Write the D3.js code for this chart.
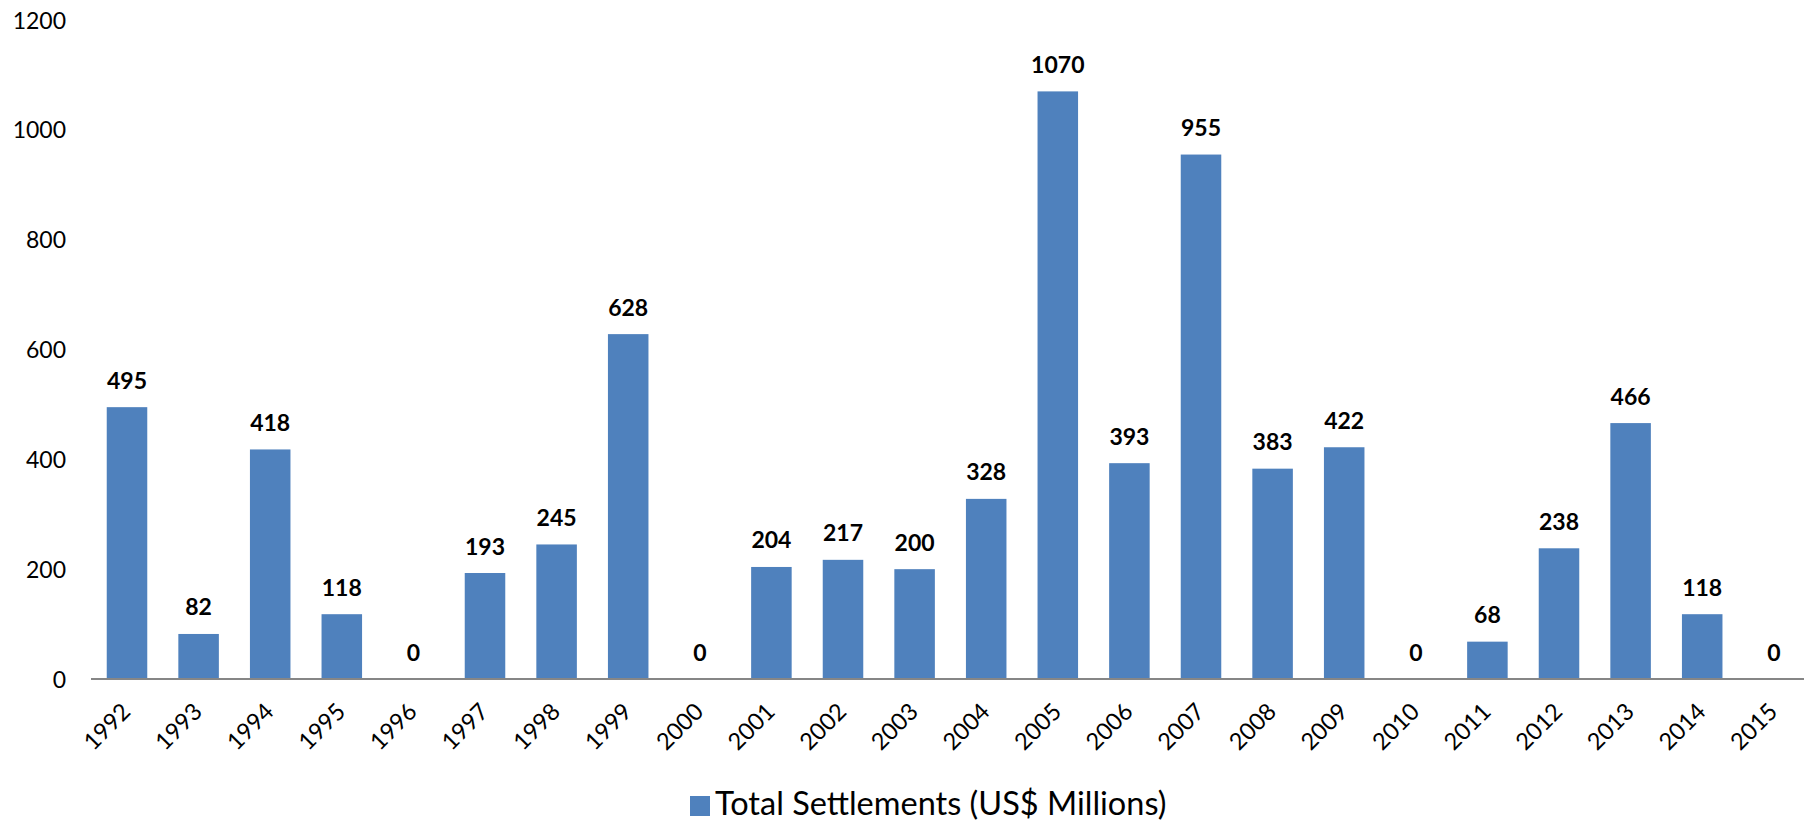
<!DOCTYPE html>
<html>
<head>
<meta charset="utf-8">
<script src="https://cdn.jsdelivr.net/npm/d3@7"></script>
<style>
  html, body { margin: 0; padding: 0; background: #fff; }
  svg { display: block; }
  text { font-family: Lato, "Open Sans", sans-serif; }
</style>
</head>
<body>
<svg id="chart" width="1804" height="822"></svg>
<script>
// Total settlements per year (US$ millions)
const years = ["1992","1993","1994","1995","1996","1997","1998","1999","2000","2001","2002","2003",
               "2004","2005","2006","2007","2008","2009","2010","2011","2012","2013","2014","2015"];
const settlements = [495, 82, 418, 118, 0, 193, 245, 628, 0, 204, 217, 200,
                     328, 1070, 393, 955, 383, 422, 0, 68, 238, 466, 118, 0];
const yTicks = [0, 200, 400, 600, 800, 1000, 1200];
const seriesName = "Total Settlements (US$ Millions)";

const barColor = "#4F81BD";
const svg = d3.select("#chart");

const x = d3.scaleBand()
  .domain(years)
  .range([91.2, 91.2 + 71.6 * years.length])
  .paddingInner(0.434)
  .paddingOuter(0.217);

const y = d3.scaleLinear().domain([0, 1200]).range([679, 20]);

// value axis: labels only, no line or ticks
const yAxis = svg.append("g")
  .attr("transform", "translate(66,0)")
  .call(d3.axisLeft(y).tickValues(yTicks).tickSize(0).tickPadding(0).tickFormat(d3.format("d")));
yAxis.select(".domain").remove();
yAxis.selectAll("text")
  .attr("font-size", 23)
  .attr("font-family", "Lato, sans-serif")
  .attr("fill", "#000")
  .attr("dy", "0.35em");

// bars
svg.append("g").selectAll("rect")
  .data(years)
  .join("rect")
  .attr("x", d => x(d))
  .attr("width", x.bandwidth())
  .attr("y", (d, i) => y(settlements[i]))
  .attr("height", (d, i) => y(0) - y(settlements[i]))
  .attr("fill", barColor);

// category axis
const xAxis = svg.append("g")
  .attr("transform", `translate(0,${y(0)})`)
  .call(d3.axisBottom(x).tickSize(0).tickPadding(0));
xAxis.select(".domain").remove();
svg.append("line")
  .attr("x1", 91).attr("x2", 1804)
  .attr("y1", y(0)).attr("y2", y(0))
  .attr("stroke", "#868686").attr("stroke-width", 2);
xAxis.selectAll("text")
  .attr("font-size", 23.5)
  .attr("font-family", "Lato, sans-serif")
  .attr("fill", "#000")
  .attr("text-anchor", "end")
  .attr("dy", 0)
  .attr("transform", "translate(5,34) rotate(-45)");

// value labels
svg.append("g").selectAll("text")
  .data(years)
  .join("text")
  .attr("x", d => x(d) + x.bandwidth() / 2)
  .attr("y", (d, i) => y(settlements[i]) - 18.5)
  .attr("text-anchor", "middle")
  .attr("font-size", 23)
  .attr("font-weight", "bold")
  .attr("fill", "#000")
  .text((d, i) => settlements[i]);

// legend
const legend = svg.append("g");
legend.append("rect")
  .attr("x", 690).attr("y", 796).attr("width", 20).attr("height", 20)
  .attr("fill", barColor);
legend.append("text")
  .attr("x", 715).attr("y", 815)
  .attr("font-size", 32.5)
  .attr("fill", "#000")
  .text(seriesName);
</script>
</body>
</html>
